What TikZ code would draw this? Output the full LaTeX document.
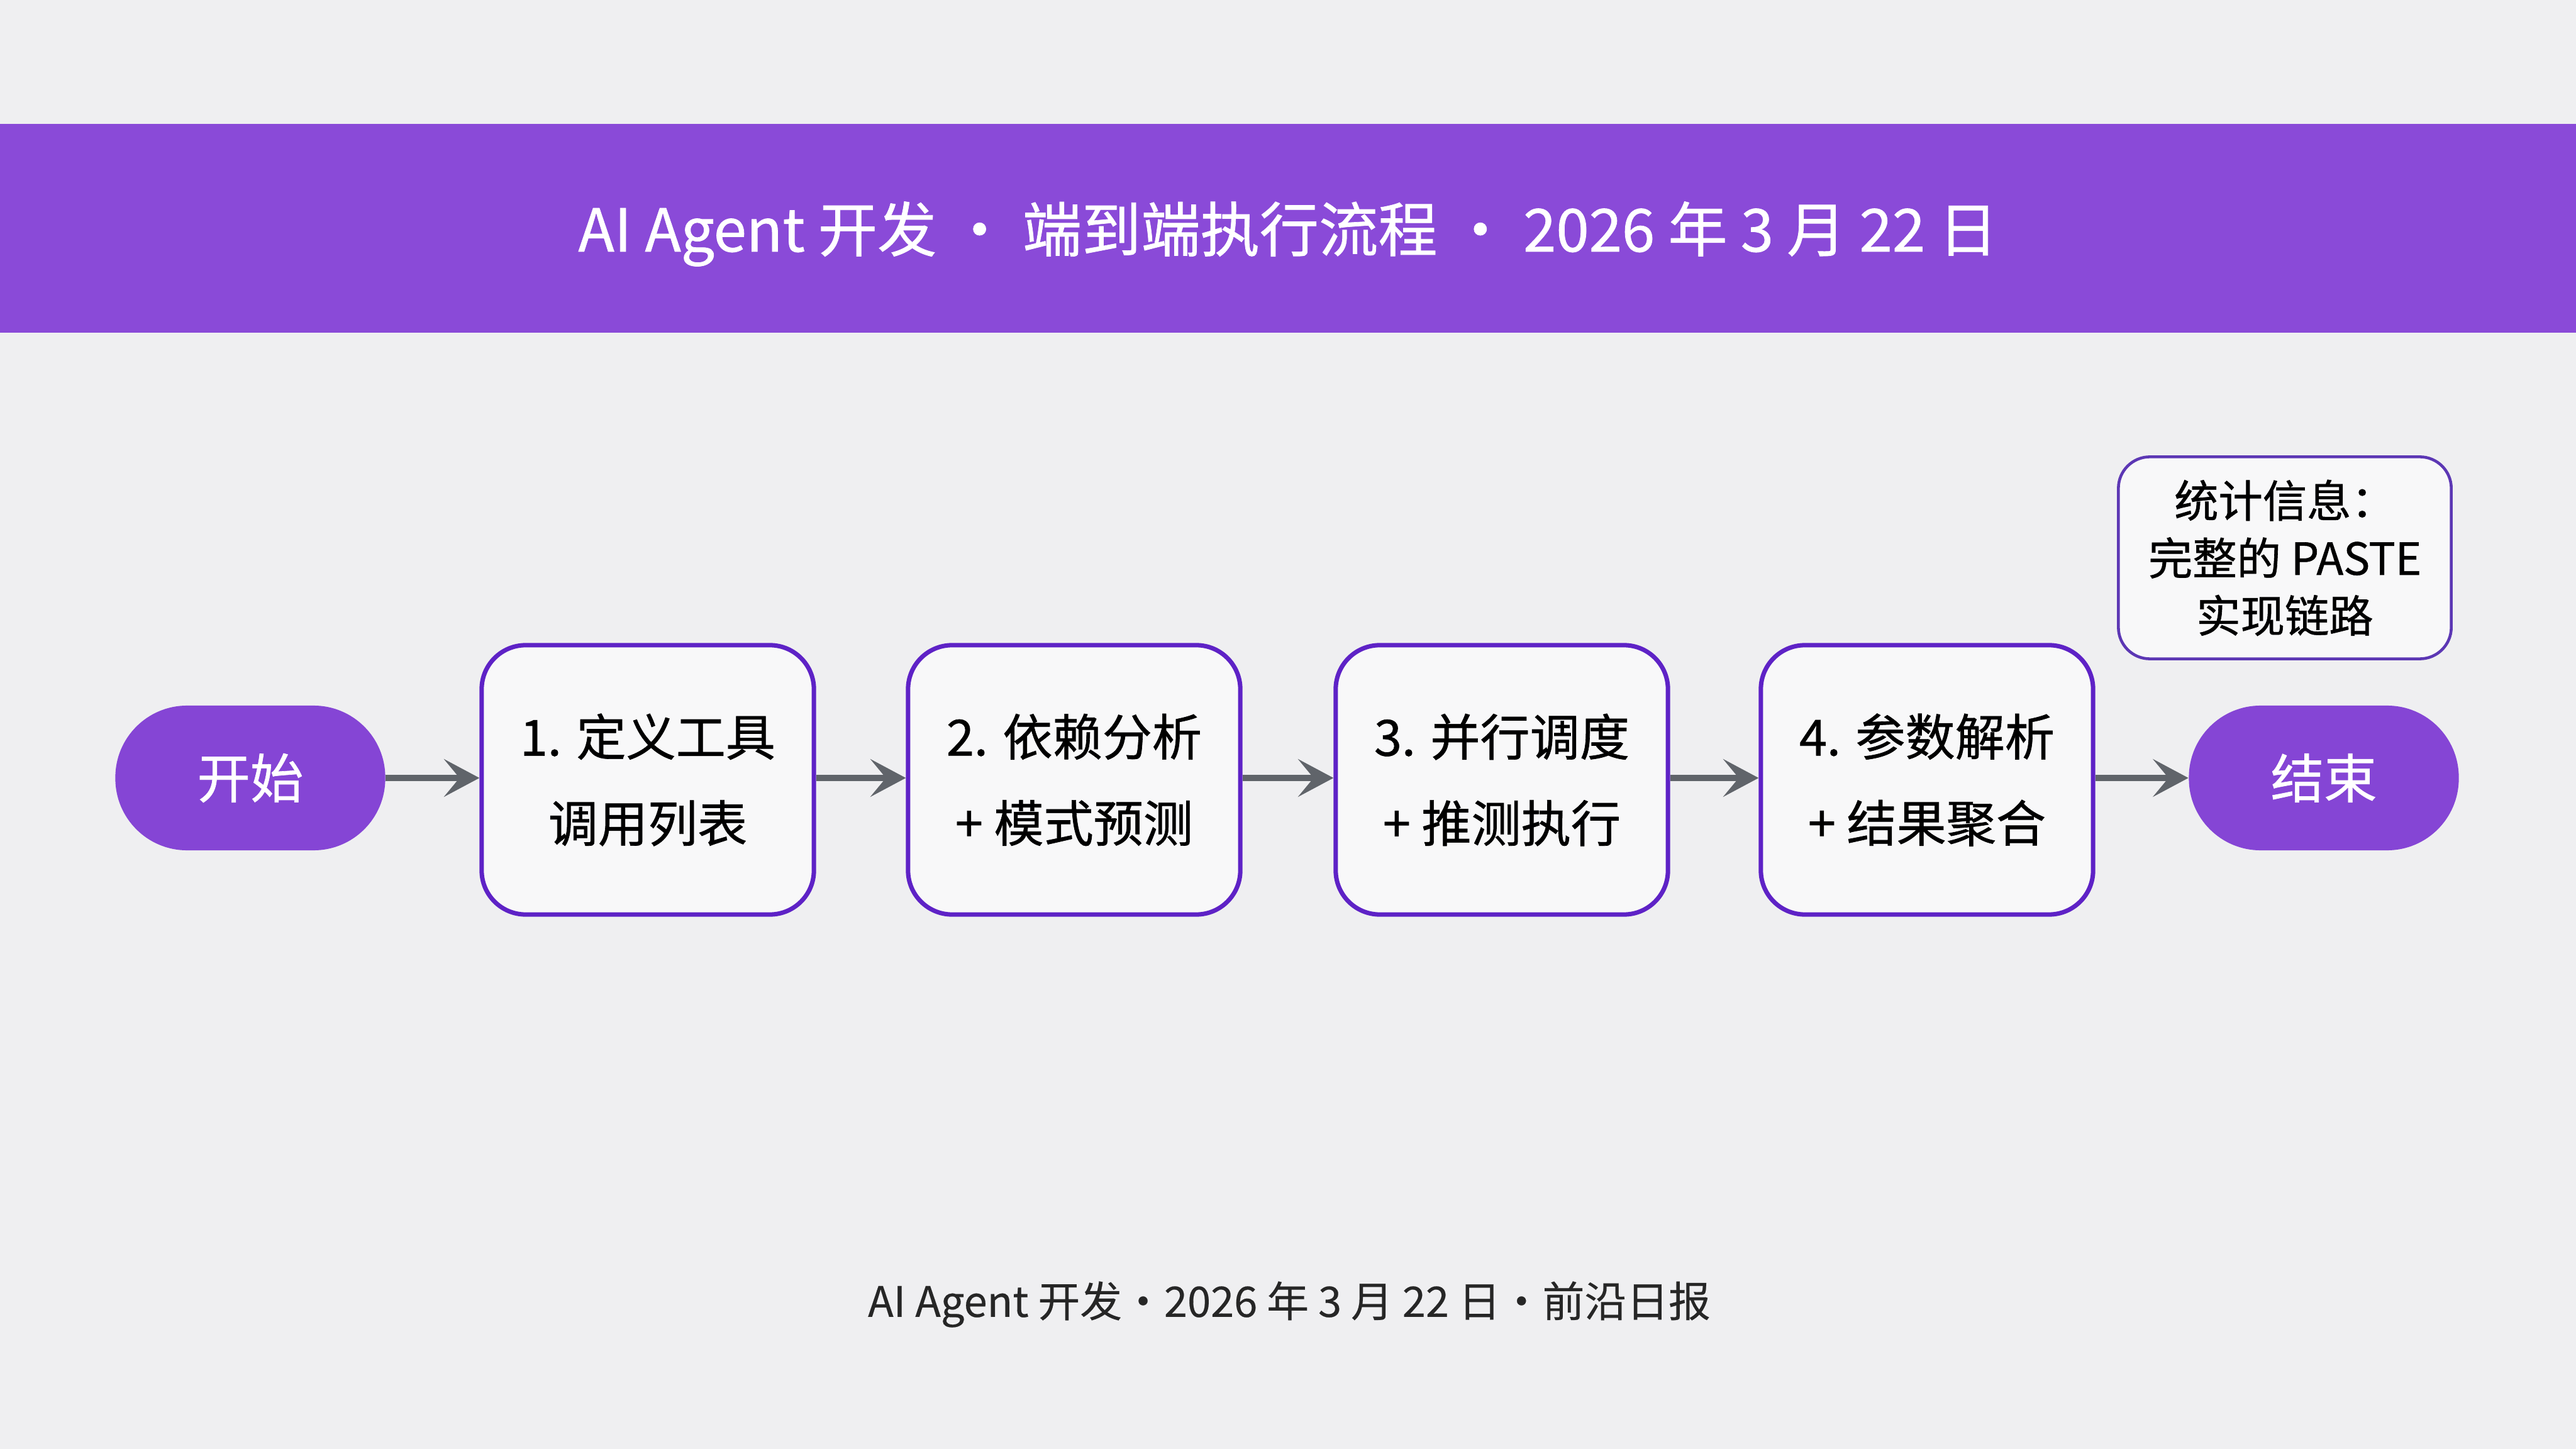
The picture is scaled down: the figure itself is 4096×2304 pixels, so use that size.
\documentclass[tikz,border=0pt]{standalone}
\usepackage{fontspec}
\setmainfont{Noto Sans CJK SC}[FakeBold=0.8]
\newfontfamily\footfont{Noto Sans CJK SC}[FakeBold=0.3]
\usetikzlibrary{arrows.meta}
\definecolor{bgc}{HTML}{EFEFF1}
\definecolor{banner}{HTML}{8A4AD8}
\definecolor{pillc}{HTML}{8545D5}
\definecolor{bordc}{HTML}{5E22C6}
\definecolor{statc}{HTML}{5C37B4}
\definecolor{arrc}{HTML}{60646A}
\definecolor{boxfill}{HTML}{F8F8F9}
\tikzset{
  pill/.style={fill=pillc, draw=none, rounded corners=1.14cm, minimum width=4.29cm, minimum height=2.3cm, text=white, font=\fontsize{24pt}{28pt}\selectfont, inner sep=0pt},
  stepbox/.style={fill=boxfill, draw=bordc, line width=2pt, rounded corners=0.7cm, minimum width=5.28cm, minimum height=4.28cm, align=center, font=\fontsize{22.5pt}{39pt}\selectfont, inner sep=0pt},
  statbox/.style={fill=boxfill, draw=statc, line width=1.3pt, rounded corners=0.5cm, minimum width=5.29cm, minimum height=3.21cm, align=center, font=\fontsize{20pt}{26pt}\selectfont, inner sep=0pt},
  flow/.style={draw=arrc, line width=2.8pt, -{Stealth[length=16pt, width=17pt, inset=7pt]}}
}
\begin{document}
\begin{tikzpicture}[x=0.01cm, y=-0.01cm]
\fill[bgc] (0,0) rectangle (4096,2304);
\useasboundingbox (0,0) rectangle (4096,2304);
\fill[banner] (0,197) rectangle (4096,529);
\node[text=white, font=\fontsize{26.8pt}{30pt}\selectfont] (title) at (2048,372) {AI Agent 开发 ・ 端到端执行流程 ・ 2026 年 3 月 22 日};

\node[pill] (start) at (398,1237) {开始};
\node[stepbox] (s1) at (1030,1240) {1. 定义工具\\调用列表};
\node[stepbox] (s2) at (1708,1240) {2. 依赖分析\\+ 模式预测};
\node[stepbox] (s3) at (2388,1240) {3. 并行调度\\+ 推测执行};
\node[stepbox] (s4) at (3064,1240) {4. 参数解析\\+ 结果聚合};
\node[pill] (end) at (3695,1237) {结束};
\node[statbox] (stat) at (3633,887) {统计信息：\\完整的 PASTE\\实现链路};

\draw[flow] (start.east) -- (s1.west |- start.east);
\draw[flow] (s1.east |- start.east) -- (s2.west |- start.east);
\draw[flow] (s2.east |- start.east) -- (s3.west |- start.east);
\draw[flow] (s3.east |- start.east) -- (s4.west |- start.east);
\draw[flow] (s4.east |- start.east) -- (end.west);

\node[font=\footfont\fontsize{19pt}{22pt}\selectfont, text=black!85] (foot) at (2050,2074) {AI Agent 开发・2026 年 3 月 22 日・前沿日报};
\end{tikzpicture}
\end{document}
